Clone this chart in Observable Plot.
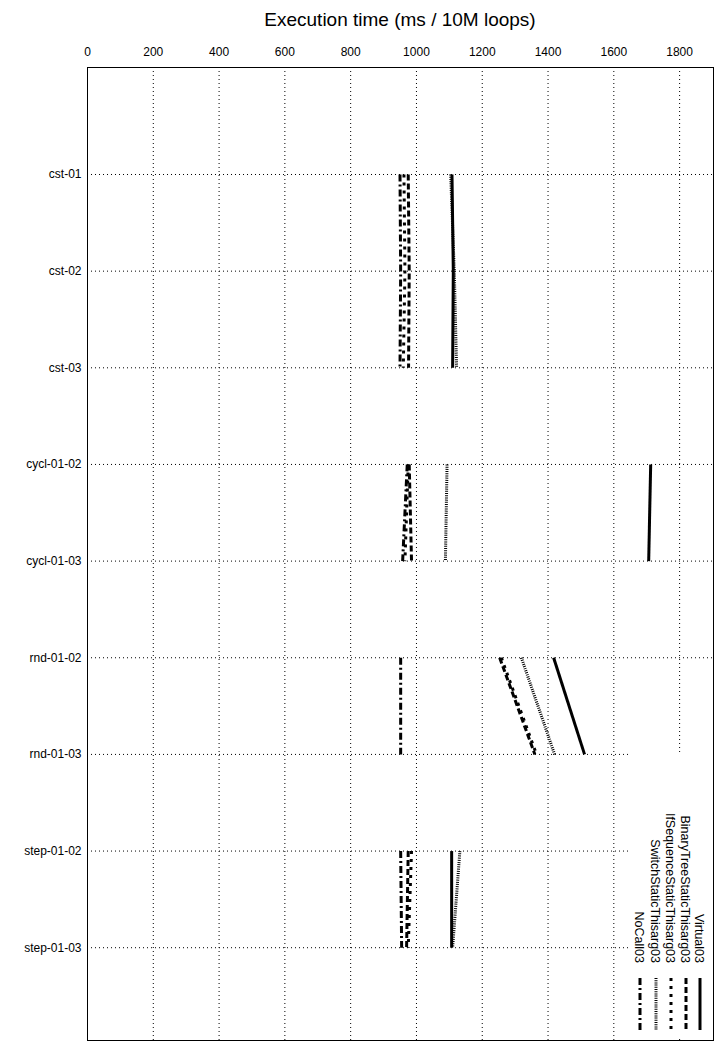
<!DOCTYPE html>
<html><head><meta charset="utf-8">
<script src="https://cdn.jsdelivr.net/npm/d3@7"></script>
<script src="https://cdn.jsdelivr.net/npm/@observablehq/plot@0.6"></script>
<style>body{margin:0;background:#fff;font-family:"Liberation Sans",Arial,sans-serif}</style>
</head><body><div id="chart"></div>
<script>
const categories = ["cst-01","cst-02","cst-03","cycl-01-02","cycl-01-03","rnd-01-02","rnd-01-03","step-01-02","step-01-03"];
const groups = [[0,1,2],[3,4],[5,6],[7,8]];
const seriesNames = ["Virtual03","BinaryTreeStaticThisarg03","IfSequenceStaticThisarg03","SwitchStaticThisarg03","NoCall03"];
const Virtual03 = [1108,1112,1110, 1712,1706, 1417,1511, 1107,1107];
const BinaryTree = [975,978,976, 978,985, 1253,1360, 975,970];
const IfSequence = [962,965,960, 975,965, 1258,1365, 985,975];
const Switch = [1104,1115,1122, 1093,1088, 1319,1420, 1132,1110];
const NoCall = [950,952,950, 972,958, 952,952, 952,955];
const xTicks = [0,200,400,600,800,1000,1200,1400,1600,1800];
const styles = [
  {w:3, d:null},
  {w:3, d:"6,3"},
  {w:3, d:"3,5"},
  {w:3, d:"1,1.2"},
  {w:3, d:"7,3,2,3"}
];
const allVals = [Virtual03,BinaryTree,IfSequence,Switch,NoCall];
const rows = [];
allVals.forEach((vals,s)=>groups.forEach((g,gi)=>g.forEach(i=>rows.push({s, g:gi, key:s+"-"+gi, y:i, v:vals[i]}))));
const marks = [
  Plot.ruleX(xTicks.slice(1), {stroke:"#000", strokeDasharray:"1,3", strokeWidth:1}),
  Plot.ruleY(d3.range(categories.length), {stroke:"#000", strokeDasharray:"1,3", strokeWidth:1}),
];
styles.forEach((st,s)=>{
  marks.push(Plot.line(rows.filter(r=>r.s===s), {x:"v", y:"y", z:"key", stroke:"#000", strokeWidth:st.w, strokeDasharray:st.d, strokeLinecap:"butt"}));
});
marks.push(Plot.frame({stroke:"#000"}));
const plot = Plot.plot({
  width:716, height:1044,
  marginTop:67, marginLeft:87, marginRight:3, marginBottom:4,
  style:{fontFamily:"Liberation Sans, Arial, sans-serif", fontSize:"12px", background:"#fff"},
  x:{domain:[0,1903], ticks:xTicks, axis:"top", label:null, tickSize:0, tickPadding:12, tickFormat:d=>String(d)},
  y:{domain:[-1.107,8.96], reverse:true, ticks:d3.range(categories.length), tickFormat:i=>categories[i], label:null, tickSize:0, tickPadding:6},
  marks
});
const svg = d3.select(plot);
svg.selectAll("[aria-label='x-axis tick label'] text, [aria-label='y-axis tick label'] text").attr("font-size",12);
svg.append("text").attr("x",400).attr("y",26).attr("text-anchor","middle").attr("font-size",19).text("Execution time (ms / 10M loops)");
const lg = svg.append("g");
lg.append("rect").attr("x",630).attr("y",753).attr("width",82).attr("height",286).attr("fill","#fff");
const cols = [700,686,671,656,640];
seriesNames.forEach((n,s)=>{
  const cx = cols[s];
  lg.append("text").attr("transform",`translate(${cx-5},963) rotate(90)`).attr("text-anchor","end").attr("font-size",12.5).text(n);
  lg.append("line").attr("x1",cx).attr("x2",cx).attr("y1",978).attr("y2",1030).attr("stroke","#000")
    .attr("stroke-width",styles[s].w).attr("stroke-dasharray",styles[s].d);
});
document.getElementById("chart").appendChild(plot);
</script></body></html>
